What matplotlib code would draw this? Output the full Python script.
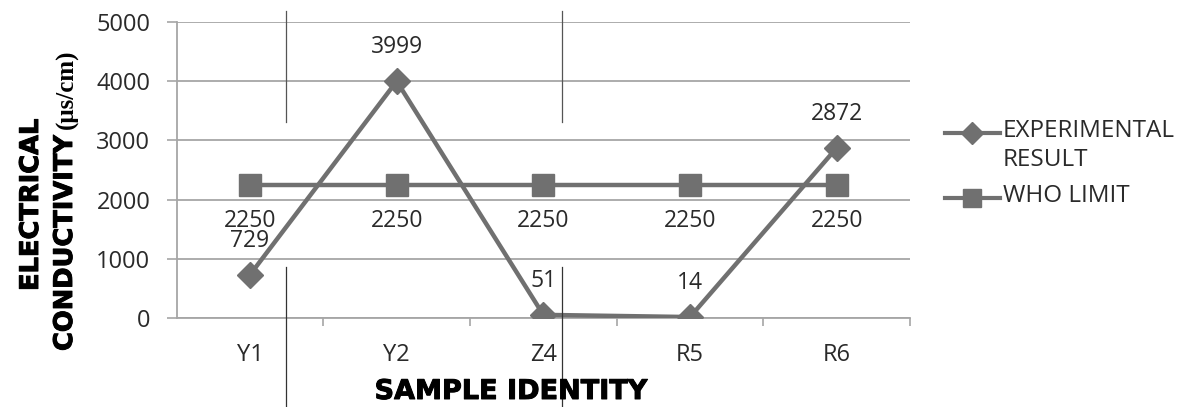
import matplotlib.pyplot as plt
import matplotlib.patheffects as pe
from matplotlib.lines import Line2D

samples = ['Y1', 'Y2', 'Z4', 'R5', 'R6']
experimental = [729, 3999, 51, 14, 2872]
who_limit = [2250, 2250, 2250, 2250, 2250]

plt.rcParams.update({'font.family': 'Open Sans', 'font.size': 17})

line_col = '#707070'
grid_col = '#a6a6a6'
text_col = '#2a2a2a'
W, H = 1178, 407

fig = plt.figure(figsize=(W / 100, H / 100), dpi=100)
ax = fig.add_axes([0.150, 0.219, 0.6225, 0.727])

x = list(range(len(samples)))
ax.plot(x, experimental, color=line_col, linewidth=3.2, marker='D', markersize=13, zorder=3)
ax.plot(x, who_limit, color=line_col, linewidth=3.2, marker='s', markersize=15.5, zorder=3)

for xi, v in zip(x, experimental):
    ax.annotate(str(v), (xi, v), xytext=(0, 34), textcoords='offset pixels',
                ha='center', va='center', fontsize=16.5, color=text_col)
for xi, v in zip(x, who_limit):
    ax.annotate(str(v), (xi, v), xytext=(0, -36), textcoords='offset pixels',
                ha='center', va='center', fontsize=16.5, color=text_col)

ax.set_xlim(-0.5, len(samples) - 0.5)
ax.set_ylim(0, 5000)
ax.set_yticks(range(0, 5001, 1000))
ax.set_xticks(x)
ax.set_xticklabels(samples)
ax.set_xticks([i + 0.5 for i in x], minor=True)
ax.tick_params(axis='x', which='major', length=0, pad=18, labelsize=17, labelcolor=text_col)
ax.tick_params(axis='x', which='minor', length=6, color=grid_col, width=1.2)
ax.tick_params(axis='y', length=7, color=grid_col, width=1.2, pad=12, labelsize=17,
               labelcolor=text_col)

ax.yaxis.grid(True, color=grid_col, linewidth=1.3)
ax.set_axisbelow(True)
for side in ['top', 'right']:
    ax.spines[side].set_visible(False)
for side in ['left', 'bottom']:
    ax.spines[side].set_color(grid_col)
    ax.spines[side].set_linewidth(1.3)

# axis titles in a heavy face
heavy = dict(fontweight='heavy', family='DejaVu Sans', color='black',
             path_effects=[pe.withStroke(linewidth=0.7, foreground='black')])
fig.text(0.434, 1 - 392 / H, 'SAMPLE IDENTITY', ha='center', va='center',
         fontsize=19.5, **heavy)
fig.text(38 / W, 1 - 291 / H, 'ELECTRICAL', rotation=90, rotation_mode='anchor',
         ha='left', va='baseline', fontsize=18.5, **heavy)
cond = fig.text(72 / W, 1 - 351 / H, 'CONDUCTIVITY', rotation=90, rotation_mode='anchor',
                ha='left', va='baseline', fontsize=18.5, **heavy)

# the unit continues right after the word, so measure where the word ends
fig.canvas.draw()
cond_top = cond.get_window_extent().y1
fig.text(73 / W, (cond_top + 6) / H, '(μs/cm)', rotation=90, rotation_mode='anchor',
         ha='left', va='baseline', fontsize=18, fontweight='bold',
         family='Liberation Serif', color='black')

# legend drawn at the right of the plot
legend_rows = [
    ('D', 11, 133, ['EXPERIMENTAL', 'RESULT']),
    ('s', 13, 198, ['WHO LIMIT']),
]
for marker, msize, yrow, lines in legend_rows:
    yf = 1 - yrow / H
    fig.add_artist(Line2D([945 / W, 1000 / W], [yf, yf], color=line_col, linewidth=3))
    fig.add_artist(Line2D([972 / W], [yf], color=line_col, marker=marker,
                          markersize=msize, linestyle='none'))
    for k, txt in enumerate(lines):
        fig.text(1003 / W, 1 - (yrow - 2 + 29 * k) / H, txt, ha='left', va='center',
                 fontsize=17.5, color=text_col)

# thin ruling lines running across the page
for xf in (286 / W, 562 / W):
    fig.add_artist(Line2D([xf, xf], [1 - 11 / H, 1 - 122 / H], color='#555555', linewidth=0.9))
    fig.add_artist(Line2D([xf, xf], [0, 1 - 267 / H], color='#333333', linewidth=0.9))

fig.savefig('out.png', dpi=100)
